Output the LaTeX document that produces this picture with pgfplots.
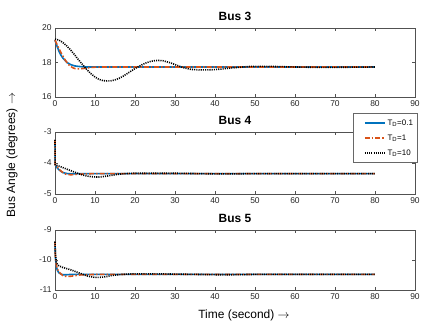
\documentclass[border=0pt]{standalone}
\usepackage{pgfplots}
\pgfplotsset{compat=1.18}
\usepackage{fontspec}
\setmainfont{Liberation Sans}
\definecolor{mblue}{HTML}{0072BD}
\definecolor{morange}{HTML}{D95319}
\definecolor{axgray}{HTML}{262626}
\pgfplotsset{
  busax/.style={
    scale only axis, width=360bp, xmin=0, xmax=90,
    xtick={0,10,...,90},
    tick align=inside, major tick length=3bp,
    axis line style={axgray!80, line width=0.5pt},
    tick style={axgray!80, line width=0.5pt},
    tick label style={font=\fontsize{8.5}{9}\selectfont, text=axgray},
    /pgf/number format/assume math mode=true,
    title style={font=\fontsize{12}{13}\selectfont\bfseries, yshift=-2bp},
    anchor=south west, clip=false,
  },
  td1/.style={mblue, line width=1.6pt},
  td2/.style={morange, line width=1.6pt, dash pattern=on 5pt off 2pt on 1.5pt off 2pt},
  td3/.style={black, line width=1.6pt, dash pattern=on 1.1pt off 1.1pt},
}
\begin{document}
\begin{tikzpicture}[x=1bp,y=1bp]
\path[use as bounding box] (0,0) rectangle (429,-326);
% Bus 3
\begin{axis}[busax, at={(55bp,-97bp)}, height=69bp, ymin=16, ymax=20, ytick={16,18,20}, title={Bus 3}]
\addplot[td1] coordinates {(0,19.30) (0.5,18.95) (1,18.65) (1.5,18.42) (2,18.25) (3,18.0) (4,17.87) (5,17.80) (6,17.77) (7,17.75) (8,17.74) (80,17.74)};
\addplot[td2] coordinates {(0,19.30) (0.5,19.05) (1,18.80) (1.5,18.57) (2,18.36) (2.5,18.16) (3,18.0) (3.5,17.86) (4,17.76) (4.5,17.69) (5,17.65) (6,17.63) (7,17.65) (8,17.69) (10,17.73) (12,17.74) (80,17.74)};
\addplot[td3] coordinates {(0,19.36) (1,19.30) (2,19.15) (3,18.95) (4,18.70) (5,18.42) (6,18.12) (7,17.85) (8,17.58) (9,17.35) (10,17.16) (11,17.02) (12,16.95) (13,16.93) (14,16.94) (15,16.99) (16,17.08) (17,17.20) (18,17.35) (19,17.50) (20,17.65) (21,17.78) (22,17.90) (23,18.00) (24,18.07) (25,18.11) (26,18.12) (27,18.10) (28,18.04) (29,17.97) (30,17.88) (31,17.79) (32,17.71) (33,17.65) (34,17.60) (36,17.57) (38,17.57) (40,17.59) (42,17.63) (44,17.68) (46,17.72) (48,17.76) (50,17.78) (52,17.78) (55,17.77) (58,17.75) (62,17.73) (66,17.72) (70,17.72) (75,17.73) (80,17.74)};
\end{axis}
% Bus 4
\begin{axis}[busax, at={(55bp,-194bp)}, height=62bp, ymin=-5, ymax=-3, ytick={-5,-4,-3}, title={Bus 4},
  legend style={at={(1.006,1.30)}, anchor=north east, font=\fontsize{8}{9}\selectfont,
    draw=axgray!70, fill=white, cells={anchor=west}, row sep=4pt,
    inner xsep=2pt, inner ysep=4pt},
  legend image code/.code={\path (-9bp,0bp); \draw[#1] (0bp,0bp) -- (20bp,0bp);}]
\addplot[td1] coordinates {(0,-3.25) (0.05,-4.05) (0.5,-4.15) (1,-4.22) (1.5,-4.27) (2,-4.31) (3,-4.34) (4,-4.35) (5,-4.35) (6,-4.34) (80,-4.34)};
\addlegendentry{T$_{\mathrm{D}}$=0.1}
\addplot[td2] coordinates {(0,-3.25) (0.05,-4.05) (0.5,-4.12) (1,-4.20) (1.5,-4.26) (2,-4.31) (2.5,-4.35) (3,-4.37) (4,-4.38) (5,-4.37) (6,-4.36) (8,-4.35) (10,-4.34) (80,-4.34)};
\addlegendentry{T$_{\mathrm{D}}$=1}
\addplot[td3] coordinates {(0,-3.25) (0.05,-4.05) (0.5,-4.08) (1,-4.10) (2,-4.15) (3,-4.20) (4,-4.25) (5,-4.30) (6,-4.35) (7,-4.39) (8,-4.42) (9,-4.44) (10,-4.45) (11,-4.45) (12,-4.44) (13,-4.42) (14,-4.40) (15,-4.38) (16,-4.36) (18,-4.34) (20,-4.33) (25,-4.33) (30,-4.33) (35,-4.34) (40,-4.35) (45,-4.35) (50,-4.34) (60,-4.34) (80,-4.34)};
\addlegendentry{T$_{\mathrm{D}}$=10\hspace{6bp}}
\end{axis}
% Bus 5
\begin{axis}[busax, at={(55bp,-290bp)}, height=60bp, ymin=-11, ymax=-9, ytick={-11,-10,-9}, title={Bus 5}]
\addplot[td1] coordinates {(0,-9.39) (0.1,-9.90) (0.3,-10.20) (0.6,-10.35) (1,-10.43) (1.5,-10.47) (2,-10.49) (3,-10.49) (4,-10.48) (80,-10.48)};
\addplot[td2] coordinates {(0,-9.39) (0.1,-9.90) (0.3,-10.15) (0.6,-10.30) (1,-10.40) (1.5,-10.47) (2,-10.52) (2.5,-10.54) (3,-10.55) (4,-10.54) (5,-10.52) (6,-10.50) (8,-10.49) (10,-10.48) (80,-10.48)};
\addplot[td3] coordinates {(0,-9.39) (0.1,-9.80) (0.3,-10.05) (0.6,-10.15) (1,-10.20) (2,-10.25) (3,-10.29) (4,-10.33) (5,-10.38) (6,-10.43) (7,-10.48) (8,-10.53) (9,-10.56) (10,-10.58) (11,-10.58) (12,-10.57) (13,-10.55) (14,-10.52) (16,-10.49) (18,-10.47) (20,-10.46) (25,-10.46) (30,-10.47) (35,-10.48) (40,-10.49) (45,-10.49) (50,-10.48) (80,-10.48)};
\end{axis}
\node[font=\fontsize{12}{13}\selectfont, rotate=90] at (12,-155) {Bus Angle (degrees) $\rightarrow$};
\node[font=\fontsize{12}{13}\selectfont] at (244,-315) {Time (second) $\rightarrow$};
\end{tikzpicture}
\end{document}
